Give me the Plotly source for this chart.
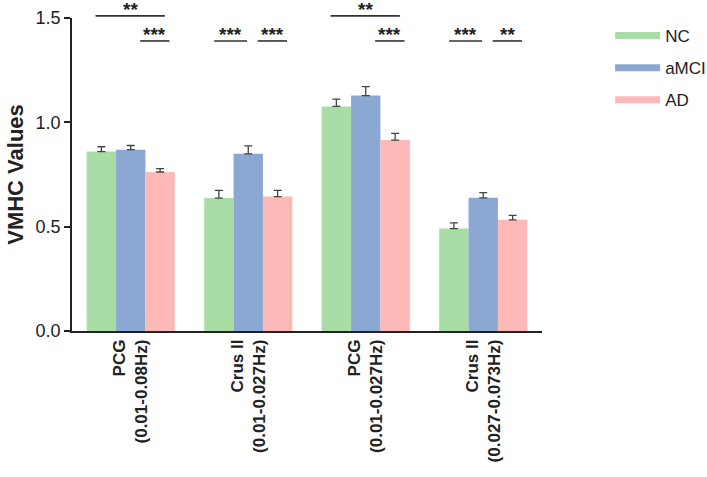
import plotly.graph_objects as go

# ── Data ──────────────────────────────────────────────────────────────────────
categories = [
    "PCG<br>(0.01-0.08Hz)",
    "Crus II<br>(0.01-0.027Hz)",
    "PCG<br>(0.01-0.027Hz)",
    "Crus II<br>(0.027-0.073Hz)",
]
groups = ["NC", "aMCI", "AD"]
colors = {"NC": "#A9DDA6", "aMCI": "#8AA8D2", "AD": "#FDB9B8"}

means = {
    "NC":   [0.860, 0.637, 1.076, 0.491],
    "aMCI": [0.869, 0.849, 1.128, 0.638],
    "AD":   [0.762, 0.644, 0.915, 0.533],
}
sem = {
    "NC":   [0.023, 0.037, 0.035, 0.027],
    "aMCI": [0.020, 0.038, 0.043, 0.025],
    "AD":   [0.016, 0.030, 0.032, 0.021],
}

# significance brackets: category index, from group, to group, label, level
sig_cat   = [0, 0, 1, 1, 2, 2, 3, 3]
sig_from  = ["NC", "aMCI", "NC", "aMCI", "NC", "aMCI", "NC", "aMCI"]
sig_to    = ["AD", "AD", "aMCI", "AD", "AD", "AD", "aMCI", "AD"]
sig_text  = ["**", "***", "***", "***", "**", "***", "***", "**"]
sig_level = [1.51, 1.39, 1.39, 1.39, 1.51, 1.39, 1.39, 1.39]

Y_MAX = 1.5
BAR_W = 0.25  # width of one bar in category units

fig = go.Figure()
for g in groups:
    fig.add_trace(go.Bar(
        x=categories, y=means[g], name=g,
        marker=dict(color=colors[g], line=dict(width=0)),
        error_y=dict(type="data", array=sem[g], arrayminus=[0] * len(sem[g]),
                     symmetric=False, color="#444444", thickness=1.3, width=4),
        showlegend=False,
    ))
    # legend entry with a flat wide swatch
    fig.add_trace(go.Scatter(
        x=[None], y=[None], mode="lines", name=g, legendgroup=g,
        line=dict(color=colors[g], width=7),
    ))

offset = {g: (i - 1) * BAR_W for i, g in enumerate(groups)}
for c, a, b, t, lv in zip(sig_cat, sig_from, sig_to, sig_text, sig_level):
    if a == "NC" and b == "AD":
        x0, x1 = c + offset[a] - 0.05, c + offset[b] + 0.04
    elif a == "NC" and b == "aMCI":
        x0, x1 = c + offset[a] - 0.04, c + offset[b] - 0.01
    else:
        x0, x1 = c + offset[a] + 0.08, c + offset[b] + 0.08
    fig.add_shape(type="line", xref="x", yref="y domain",
                  x0=x0, x1=x1, y0=lv / Y_MAX, y1=lv / Y_MAX,
                  line=dict(color="#333333", width=1.6))
    fig.add_annotation(xref="x", yref="y domain", x=(x0 + x1) / 2, y=lv / Y_MAX,
                       text=f"<b>{t}</b>", showarrow=False, yanchor="bottom",
                       yshift=-6, font=dict(size=19, color="#222222"))

fig.update_layout(
    width=707, height=477,
    margin=dict(l=72, r=165, t=18, b=146, autoexpand=False),
    paper_bgcolor="white", plot_bgcolor="white",
    barmode="group", bargap=0.25, bargroupgap=0,
    font=dict(family="Arial", color="#222222"),
    xaxis=dict(
        type="category", range=[-0.5, 3.5],
        showline=True, linecolor="#222222", linewidth=1.5,
        ticks="", tickangle=-90,
        tickfont=dict(size=17, color="#222222"),
    ),
    yaxis=dict(
        range=[0, Y_MAX], tickvals=[0, 0.5, 1.0, 1.5], tickformat=".1f",
        showline=True, linecolor="#222222", linewidth=1.5,
        ticks="outside", ticklen=6, tickwidth=1.5, tickcolor="#222222",
        showgrid=False, zeroline=False,
        tickfont=dict(size=18, color="#222222"),
        title=dict(text="<b>VMHC Values</b>", font=dict(size=22), standoff=6),
    ),
    legend=dict(
        x=1.145, y=1.0, xanchor="left", yanchor="top",
        font=dict(size=17, color="#222222"),
        itemwidth=45, tracegroupgap=7,
    ),
)
fig.update_yaxes(tickprefix="<b>", ticksuffix="</b>")
fig.update_xaxes(tickprefix="<b>", ticksuffix="</b>")

# drop the default page margin so the figure sits at the window corner
fig.write_html("out.html", config={"displayModeBar": False},
               post_script="document.body.style.margin='0';")
